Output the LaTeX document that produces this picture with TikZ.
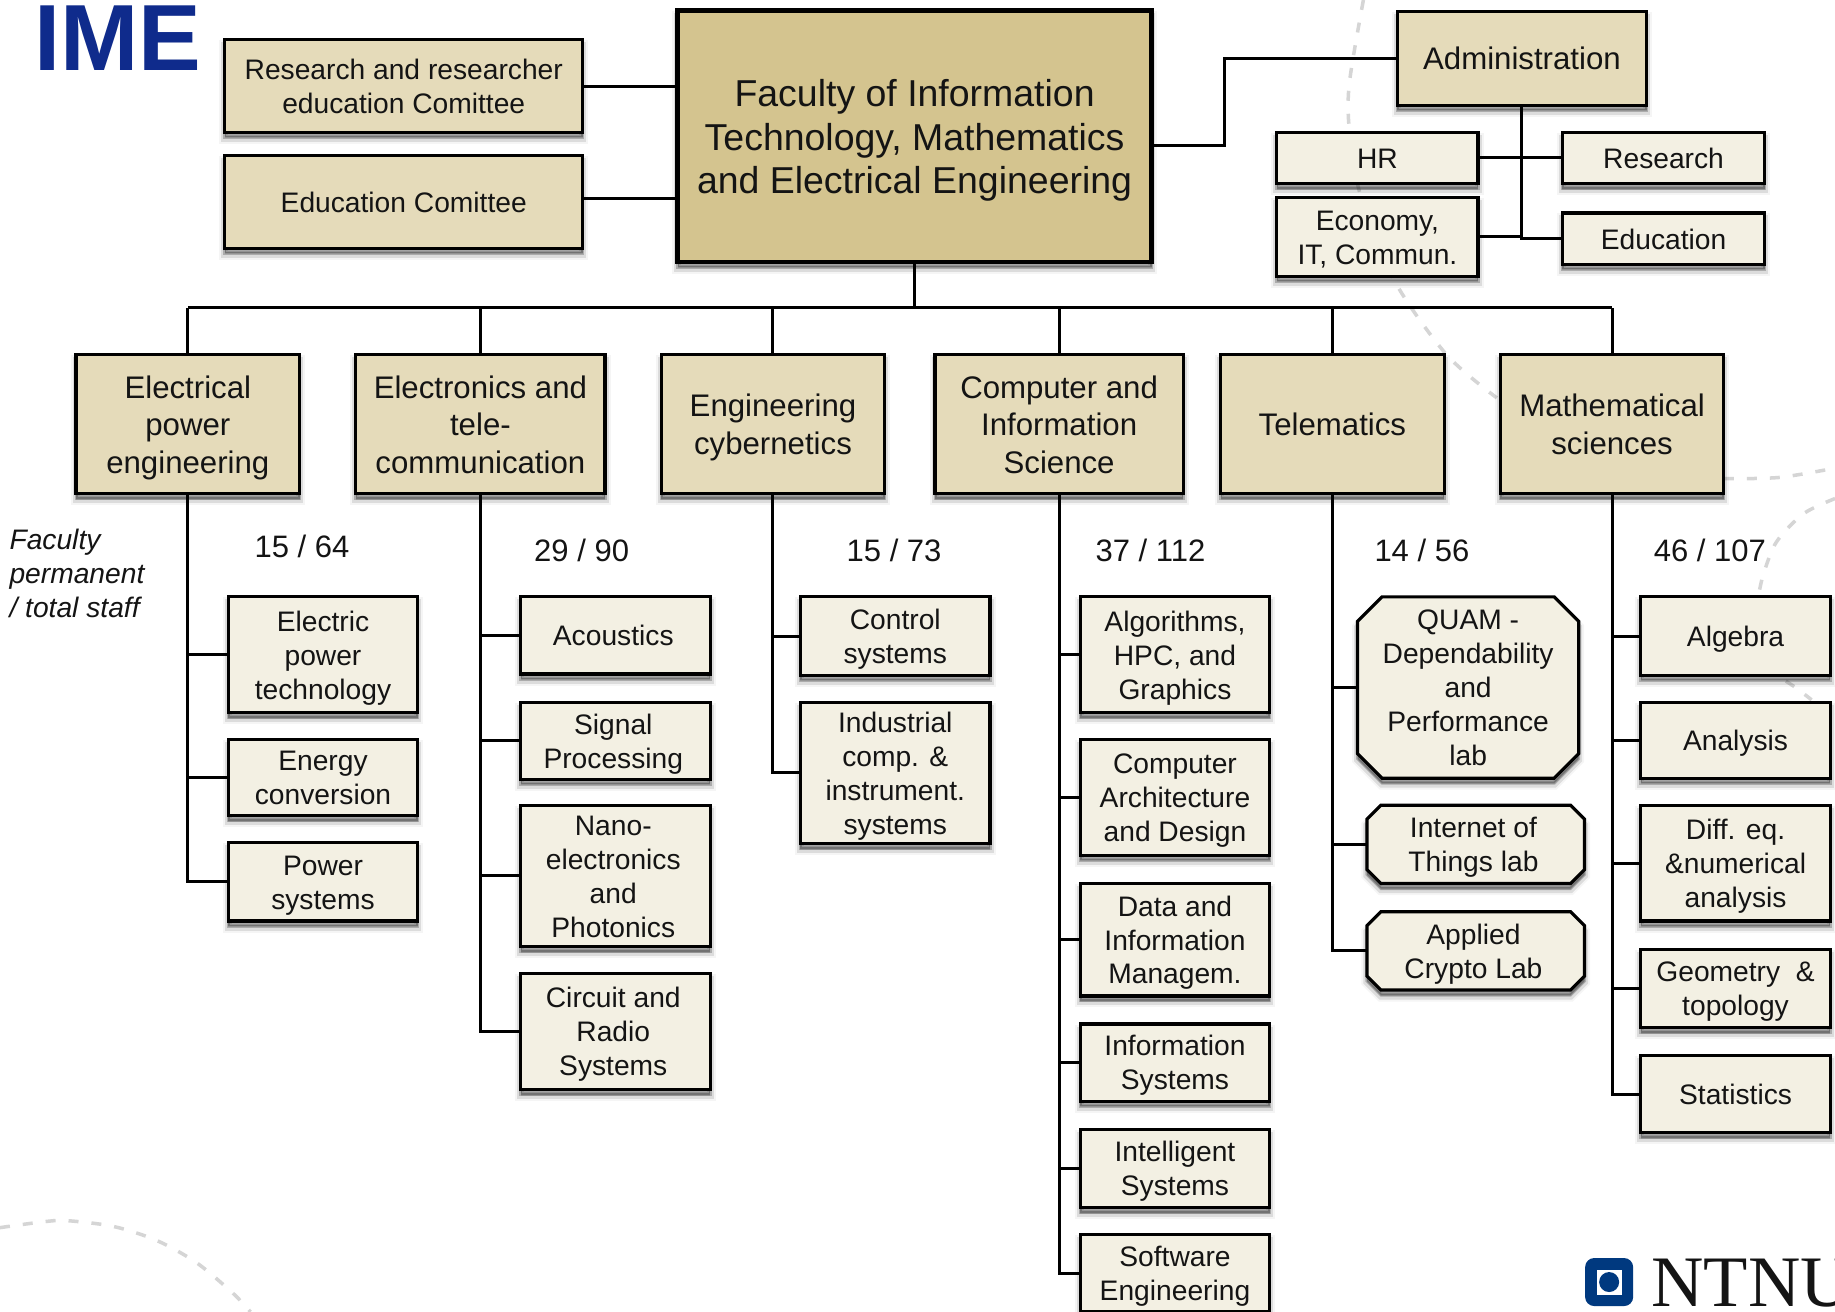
\documentclass[tikz,border=0pt]{standalone}
\usepackage{fontspec}
\setmainfont{Liberation Sans}
\newfontfamily\serifnt{Liberation Serif}
\usetikzlibrary{shadows}
\definecolor{mainfill}{HTML}{D4C48F}
\definecolor{midfill}{HTML}{E5DBBA}
\definecolor{lightfill}{HTML}{F3F0E3}
\definecolor{imeblue}{HTML}{0F2B8C}
\definecolor{ntnublue}{HTML}{00397F}
\definecolor{dashgrey}{HTML}{D5D5D5}
\tikzset{
  softshadow/.style={
    general shadow={fill=black,draw=black,line width=11pt,opacity=.04,shadow yshift=-6pt},
    general shadow={fill=black,draw=black,line width=7pt,opacity=.10,shadow yshift=-6pt},
    general shadow={fill=black,draw=black,line width=3pt,opacity=.22,shadow yshift=-5pt}},
  boxbase/.style={draw=black,line width=3.2pt,align=center,inner sep=0pt,outer sep=0pt,softshadow,text=black!92},
  rootbox/.style={boxbase,fill=mainfill,line width=4.6pt,font=\fontsize{37.45}{43.3}\selectfont},
  deptbox/.style={boxbase,fill=midfill,font=\fontsize{31.2}{37.45}\selectfont},
  combox/.style={boxbase,fill=midfill,font=\fontsize{28.2}{33.94}\selectfont},
  subbox/.style={boxbase,fill=lightfill,font=\fontsize{28.2}{33.94}\selectfont},
  labtext/.style={align=center,inner sep=0pt,outer sep=0pt,text=black!92,font=\fontsize{28.2}{33.94}\selectfont},
  labshape/.style={draw=black,line width=3.2pt,fill=lightfill,softshadow,line join=miter},
  conn/.style={draw=black,line width=3pt},
  count/.style={inner sep=0pt,font=\fontsize{31}{35}\selectfont,text=black!92},
  bgdash/.style={draw=dashgrey,line width=3.5pt,dash pattern=on 10pt off 13pt}
}
\newcommand{\nudge}{\rule{4.6pt}{0pt}}
\newcommand{\bx}[7]{\node[#2,minimum width={(#5-#3)*1.1703pt},minimum height={(#6-#4)*1.1703pt}] (#1) at ({(#3+#5)/2},{(#4+#6)/2}) {\rule{0pt}{.98em}#7\rule[-.25em]{0pt}{.25em}};}
% octagonal lab box: name, x1, y1, x2, y2, chamfer, text
\newcommand{\oct}[7]{\draw[labshape] ({#2+#6},#3) -- ({#4-#6},#3) -- (#4,{#3+#6}) -- (#4,{#5-#6}) -- ({#4-#6},#5) -- ({#2+#6},#5) -- (#2,{#5-#6}) -- (#2,{#3+#6}) -- cycle;
\node[labtext,minimum width={(#4-#2)*1.1703pt},minimum height={(#5-#3)*1.1703pt}] (#1) at ({(#2+#4)/2},{(#3+#5)/2}) {\rule{0pt}{.98em}#7\rule[-.25em]{0pt}{.25em}};}
\begin{document}
\begin{tikzpicture}[x=1.1703pt,y=-1.1703pt]
\useasboundingbox (0,0) rectangle (1568,1121);
\fill[white] (0,0) rectangle (1568,1121);
% faint dashed background arcs
\draw[bgdash] plot[smooth] coordinates {(1165,0) (1153,71) (1153,111) (1162,165) (1191,239) (1236,303) (1279,340)};
\draw[bgdash] plot[smooth] coordinates {(1473,409) (1520,408) (1568,400)};
\draw[bgdash] plot[smooth] coordinates {(1568,426) (1541,439) (1518,463) (1507,490) (1503,507)};
\draw[bgdash] plot[smooth] coordinates {(1526,582) (1535,588) (1548,598)};
\draw[bgdash] plot[smooth] coordinates {(0,1049) (37,1044) (57,1043) (97,1048) (134,1060) (168,1079) (199,1105) (214,1121)};
% title
\node[inner sep=0pt,anchor=base west,text=imeblue,font=\fontsize{94}{94}\bfseries\selectfont,xscale=1] (ime) at (29,60.4) {IME};
% top row
\bx{main}{rootbox}{579}{9}{984}{224}{Faculty of Information\\Technology, Mathematics\\and Electrical Engineering}
\bx{rc}{combox}{192}{34}{498}{113}{Research and researcher\\education Comittee}
\bx{ec}{combox}{192}{133}{498}{212}{Education Comittee}
\bx{adm}{deptbox}{1194}{10}{1407}{90}{Administration}
\bx{hr}{subbox}{1091}{113}{1263}{157}{HR}
\bx{econ}{subbox}{1091}{169}{1263}{236}{Economy,\\IT, Commun.}
\bx{res}{subbox}{1335}{113}{1508}{157}{Research}
\bx{edu}{subbox}{1335}{182}{1508}{226}{Education}
% departments
\bx{d1}{deptbox}{65}{303}{256}{422}{Electrical\\power\\engineering}
\bx{d2}{deptbox}{304}{303}{517}{422}{Electronics and\\tele-\\communication}
\bx{d3}{deptbox}{565}{303}{756}{422}{Engineering\\cybernetics}
\bx{d4}{deptbox}{799}{303}{1011}{422}{Computer and\\Information\\Science}
\bx{d5}{deptbox}{1043}{303}{1234}{422}{Telematics}
\bx{d6}{deptbox}{1282}{303}{1473}{422}{Mathematical\\sciences}
% Electrical
\bx{a1}{subbox}{195}{510}{357}{609}{Electric\\power\\technology}
\bx{a2}{subbox}{195}{632}{357}{697}{Energy\\conversion}
\bx{a3}{subbox}{195}{720}{357}{787}{Power\\systems}
% Electronics
\bx{b1}{subbox}{445}{510}{607}{576}{Acoustics\nudge}
\bx{b2}{subbox}{445}{600}{607}{666}{Signal\nudge\\Processing\nudge}
\bx{b3}{subbox}{445}{688}{607}{809}{Nano-\nudge\\electronics\nudge\\and\nudge\\Photonics\nudge}
\bx{b4}{subbox}{445}{832}{607}{931}{Circuit and\nudge\\Radio\nudge\\Systems\nudge}
% Cybernetics
\bx{c1}{subbox}{684}{510}{846}{577}{Control\\systems}
\bx{c2}{subbox}{684}{600}{846}{721}{Industrial\\comp. \&\\instrument.\\systems}
% Computer
\bx{e1}{subbox}{923}{510}{1085}{609}{Algorithms,\\HPC, and\\Graphics}
\bx{e2}{subbox}{923}{632}{1085}{731}{Computer\\Architecture\\and Design}
\bx{e3}{subbox}{923}{755}{1085}{851}{Data and\\Information\\Managem.}
\bx{e4}{subbox}{923}{875}{1085}{941}{Information\\Systems}
\bx{e5}{subbox}{923}{965}{1085}{1032}{Intelligent\\Systems}
\bx{e6}{subbox}{923}{1055}{1085}{1121}{Software\\Engineering}
% Telematics
\oct{f1}{1160}{510}{1349}{665}{21}{QUAM -\\Dependability\\and\\Performance\\lab}
\oct{f2}{1168}{688}{1354}{755}{12}{Internet of\nudge\\Things lab\nudge}
\oct{f3}{1168}{779}{1354}{846}{12}{Applied\nudge\\Crypto Lab\nudge}
% Mathematics
\bx{g1}{subbox}{1402}{510}{1564}{577}{Algebra}
\bx{g2}{subbox}{1402}{600}{1564}{665}{Analysis}
\bx{g3}{subbox}{1402}{688}{1564}{787}{Diff. eq.\\\&numerical\\analysis}
\bx{g4}{subbox}{1402}{811}{1564}{878}{Geometry~~\&\\topology}
\bx{g5}{subbox}{1402}{902}{1564}{968}{Statistics}
% counts
\node[count] (n1) at (258,467) {15 / 64};
\node[count] (n2) at (497,470) {29 / 90};
\node[count] (n3) at (764,470) {15 / 73};
\node[count] (n4) at (983,470) {37 / 112};
\node[count] (n5) at (1215,470) {14 / 56};
\node[count] (n6) at (1461,470) {46 / 107};
\node[inner sep=0pt,anchor=west,align=left,text=black!92,font=\fontsize{28.2}{34}\itshape\selectfont] (lab) at (8,490) {Faculty\\permanent\\/ total staff};
% NTNU logo
\node[inner sep=0pt,minimum size=48pt,rounded corners=9pt,fill=ntnublue] (logo) at (1375,1095.5) {};
\node[inner sep=0pt,minimum size=25pt,fill=white] (logoin) at (logo) {};
\node[circle,inner sep=0pt,minimum size=20pt,fill=ntnublue] (logoc) at (logo) {};
\node[inner sep=0pt,anchor=base west,text=black!92,font=\serifnt\fontsize{72.5}{72.5}\selectfont] (ntnu) at (1411,1116) {NTNU};
% connectors
\draw[conn] ([yshift=-0.5pt]rc.east) -- ([yshift=-0.5pt]rc.east -| main.west);
\draw[conn] ([yshift=3pt]ec.east) -- ([yshift=3pt]ec.east -| main.west);
\draw[conn] ([yshift=-8.8pt]main.east) -- ++(62,0) |- (adm.west);
\draw[conn] (adm.south) |- (edu.west);
\draw[conn] (hr.east) -- (res.west);
\draw[conn] (econ.east) -- (econ.east -| adm.south);
\coordinate (bus) at (781.5,263);
\draw[conn] (main.south) -- (bus);
\draw[conn] (bus -| d1.north) -- (bus -| d6.north);
\foreach \d in {d1,d2,d3,d4,d5,d6} \draw[conn] (\d.north) -- (bus -| \d.north);
\foreach \d/\c in {d1/a1,d1/a2,d1/a3,d2/b1,d2/b2,d2/b3,d2/b4,d3/c1,d3/c2,d4/e1,d4/e2,d4/e3,d4/e4,d4/e5,d4/e6,d5/f1,d5/f2,d5/f3,d6/g1,d6/g2,d6/g3,d6/g4,d6/g5}
  \draw[conn] (\d.south) |- (\c.west);
\end{tikzpicture}
\end{document}
